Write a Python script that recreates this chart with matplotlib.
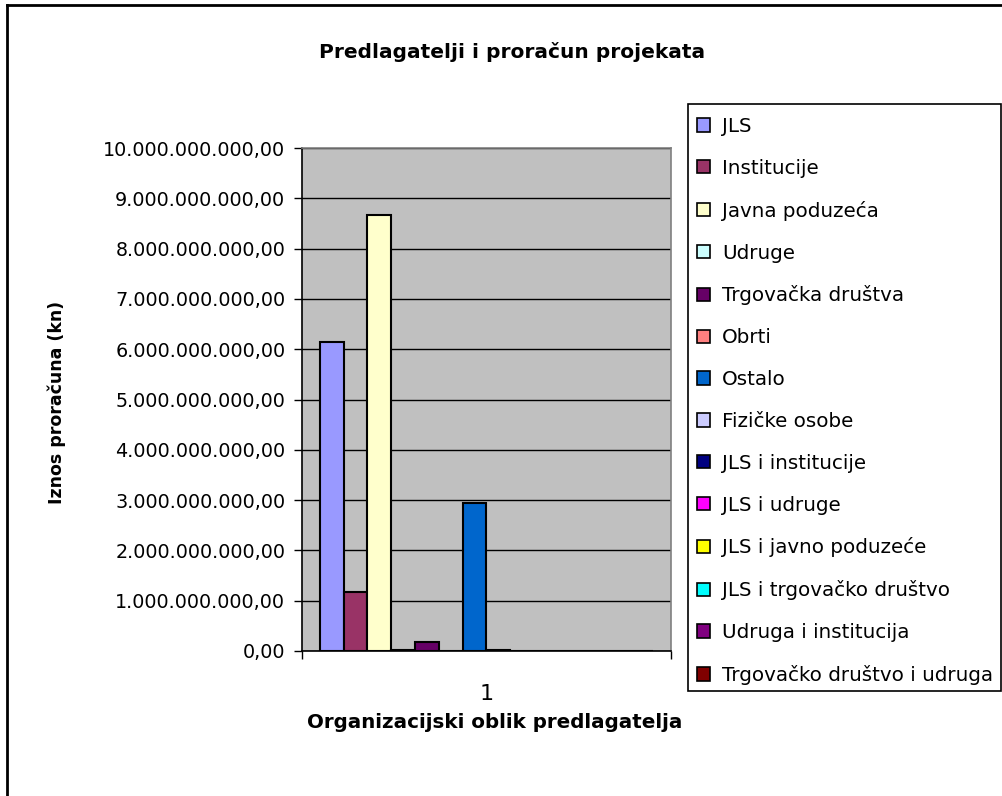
import matplotlib
matplotlib.use("Agg")
import matplotlib.pyplot as plt
from matplotlib.patches import Patch, Rectangle
from matplotlib.lines import Line2D
from matplotlib.ticker import FuncFormatter, FixedLocator

# data (kn)
series = ["JLS", "Institucije", "Javna poduzeća", "Udruge", "Trgovačka društva",
          "Obrti", "Ostalo", "Fizičke osobe", "JLS i institucije", "JLS i udruge",
          "JLS i javno poduzeće", "JLS i trgovačko društvo", "Udruga i institucija",
          "Trgovačko društvo i udruga"]
values = [6.15e9, 1.17e9, 8.66e9, 0.025e9, 0.18e9,
          0.0, 2.94e9, 0.02e9, 0.0, 0.0,
          0.0, 0.0, 0.0, 0.0]
colors = ["#9999FF", "#993366", "#FFFFCC", "#CCFFFF", "#660066",
          "#FF8080", "#0066CC", "#CCCCFF", "#000080", "#FF00FF",
          "#FFFF00", "#00FFFF", "#800080", "#800000"]
category = ["1"]

W, H = 1003, 796
fig = plt.figure(figsize=(W / 100, H / 100), dpi=100)
ax = fig.add_axes([302 / W, 1 - 651 / H, 369 / W, (651 - 148) / H])
ax.set_facecolor("#C0C0C0")

# Excel clustered bars, gap width 150%
n = len(series)
w = 1.0 / (n + 1.5)
for i, (name, v, c) in enumerate(zip(series, values, colors)):
    x = -0.5 + 0.75 * w + (i + 0.5) * w
    ax.bar(x, v, width=w, color=c, edgecolor="black", linewidth=1.5, zorder=3)

ax.set_xlim(-0.5, 0.5)
ax.set_ylim(0, 10e9)
ax.set_yticks([i * 1e9 for i in range(11)])
ax.yaxis.set_major_formatter(FuncFormatter(
    lambda v, p: f"{v:,.2f}".replace(",", "X").replace(".", ",").replace("X", ".")))
ax.grid(axis="y", color="black", linewidth=1, zorder=1)
ax.tick_params(axis="y", direction="out", length=6, width=1, labelsize=13.8, pad=6)

ax.set_xticks([0])
ax.set_xticklabels(category, fontsize=16)
ax.xaxis.set_minor_locator(FixedLocator([-0.5, 0.5]))
ax.tick_params(axis="x", which="major", length=0, pad=24)
ax.tick_params(axis="x", which="minor", direction="out", length=6, width=1)

for s in ["left", "bottom"]:
    ax.spines[s].set_color("black")
    ax.spines[s].set_linewidth(1.2)
for s in ["top", "right"]:
    ax.spines[s].set_color("#808080")
    ax.spines[s].set_linewidth(1.2)

fig.text(512 / W, 1 - 52 / H, "Predlagatelji i proračun projekata",
         ha="center", va="center", fontsize=14.5, fontweight="bold")
fig.text(57 / W, 1 - 402 / H, "Iznos proračuna (kn)", rotation=90,
         ha="center", va="center", fontsize=12.5, fontweight="bold")
fig.text(495 / W, 1 - 723 / H, "Organizacijski oblik predlagatelja",
         ha="center", va="center", fontsize=14.3, fontweight="bold")

# legend: frame drawn separately so its size matches the reference box
fig.add_artist(Rectangle((688 / W, 1 - 691 / H), (1001 - 688) / W, (691 - 104) / H,
                         transform=fig.transFigure, facecolor="white",
                         edgecolor="black", linewidth=1.2, zorder=2))
handles = [Patch(facecolor=c, edgecolor="black", linewidth=1.2) for c in colors]
leg = fig.legend(handles, series, loc="upper left", bbox_to_anchor=(697 / W, 1 - 117 / H),
                 borderaxespad=0, fontsize=14.3, frameon=False,
                 handlelength=0.65, handleheight=0.65,
                 handletextpad=0.6, labelspacing=1.15, borderpad=0)
leg.set_zorder(3)

# outer chart frame (only top and left edges fall inside the picture)
fig.add_artist(Line2D([7 / W, 7 / W], [0, 1 - 5 / H], color="black", linewidth=2))
fig.add_artist(Line2D([7 / W, 1], [1 - 5 / H, 1 - 5 / H], color="black", linewidth=2))

fig.savefig("out.png", dpi=100, facecolor="white")
